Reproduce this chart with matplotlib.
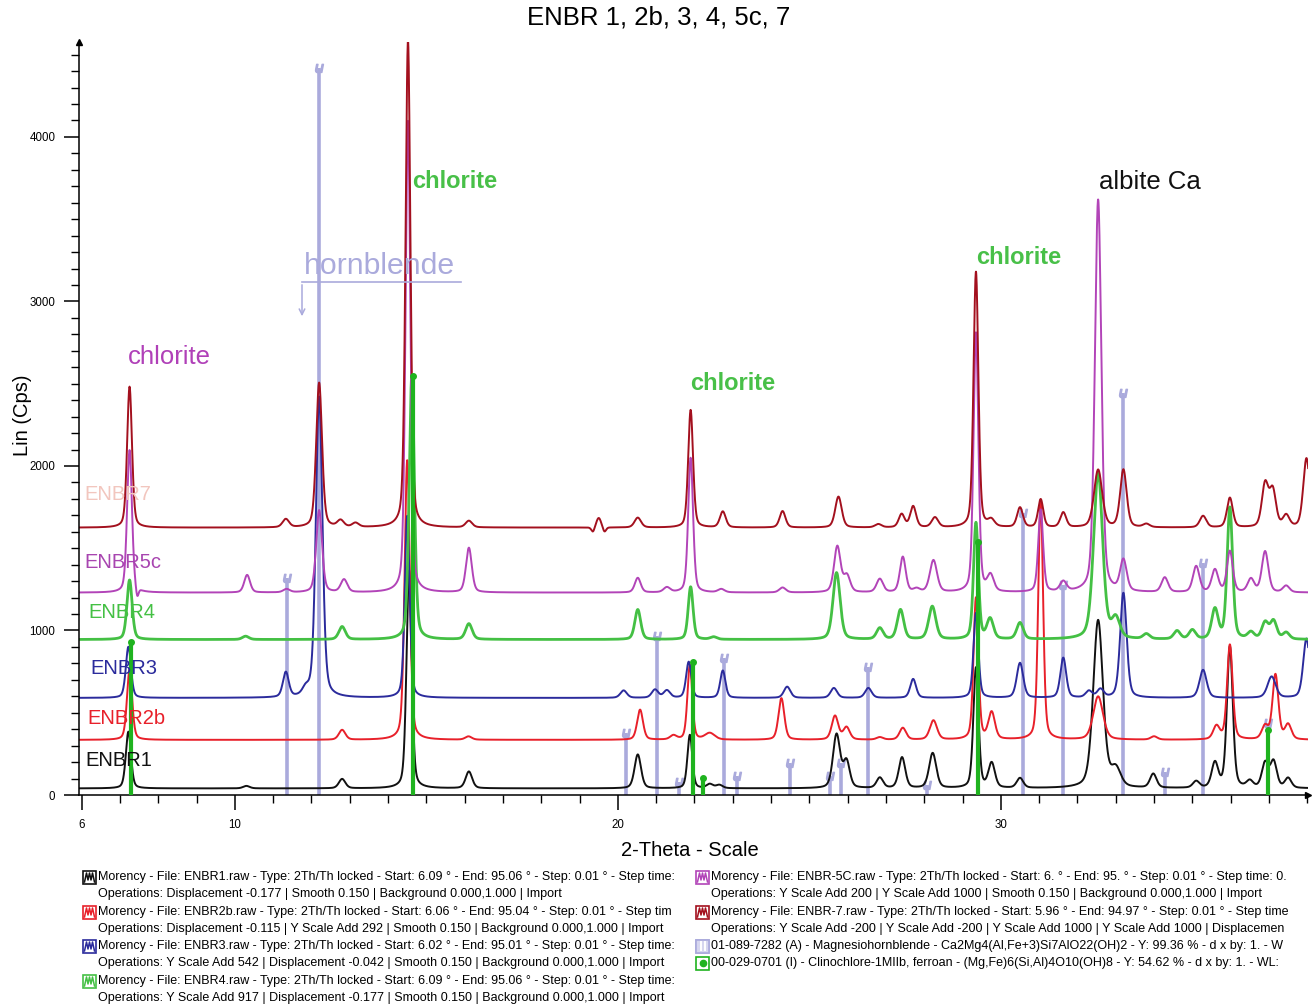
import numpy as np
import matplotlib.pyplot as plt
from matplotlib.patches import Rectangle
from matplotlib.lines import Line2D
from matplotlib.ticker import MultipleLocator, FixedLocator

plt.rcParams['font.family'] = ['Liberation Sans', 'DejaVu Sans']

# --- data (2-theta in deg, counts above background) ---
sample_names = ['ENBR1', 'ENBR2b', 'ENBR3', 'ENBR4', 'ENBR5c', 'ENBR7']
backgrounds = [40, 335, 590, 945, 1230, 1625]

# (position, height, fwhm)
peaks_enbr1 = [
    (7.22, 345, 0.16), (10.3, 15, 0.2), (12.8, 57, 0.2), (14.55, 1325, 0.16),
    (16.11, 102, 0.2), (20.52, 206, 0.2), (21.88, 325, 0.15), (22.4, 25, 0.2),
    (22.65, 20, 0.2), (25.71, 325, 0.22), (25.97, 160, 0.2), (26.84, 63, 0.2),
    (27.42, 187, 0.2), (28.22, 213, 0.22), (29.35, 732, 0.16), (29.76, 150, 0.2),
    (30.5, 60, 0.2), (32.54, 1020, 0.3), (33.0, 110, 0.3), (33.98, 85, 0.2),
    (35.1, 40, 0.2), (35.59, 150, 0.2), (35.98, 860, 0.18), (36.5, 40, 0.2),
    (36.9, 150, 0.2), (37.12, 160, 0.2), (37.5, 60, 0.2),
]
peaks_enbr2b = [
    (7.25, 425, 0.16), (12.8, 60, 0.2), (14.5, 1700, 0.16), (16.1, 20, 0.2),
    (20.58, 183, 0.18), (21.45, 25, 0.2), (21.88, 455, 0.15), (22.4, 40, 0.3),
    (24.27, 253, 0.18), (25.67, 145, 0.2), (25.97, 75, 0.2), (26.84, 15, 0.2),
    (27.44, 72, 0.2), (28.24, 117, 0.22), (29.35, 862, 0.15), (29.76, 163, 0.2),
    (31.04, 1458, 0.15), (32.54, 263, 0.3), (34.0, 20, 0.2), (35.63, 80, 0.2),
    (35.98, 577, 0.17), (36.9, 80, 0.2), (37.17, 394, 0.18), (37.5, 90, 0.2),
]
peaks_enbr3 = [
    (7.22, 311, 0.16), (11.33, 151, 0.18), (11.85, 40, 0.2), (12.2, 1830, 0.2),
    (14.5, 1106, 0.15), (20.15, 45, 0.2), (20.97, 50, 0.2), (21.28, 45, 0.2),
    (21.85, 219, 0.16), (22.74, 166, 0.16), (24.42, 68, 0.2), (25.64, 60, 0.2),
    (26.54, 60, 0.2), (27.71, 115, 0.18), (29.35, 516, 0.15), (30.5, 212, 0.2),
    (31.63, 243, 0.18), (32.3, 40, 0.2), (32.6, 50, 0.2), (33.2, 638, 0.2),
    (35.28, 170, 0.22), (37.07, 129, 0.25), (37.98, 360, 0.2),
]
peaks_enbr4 = [
    (7.25, 362, 0.16), (10.28, 20, 0.2), (12.8, 78, 0.2), (14.62, 1602, 0.16),
    (16.11, 95, 0.2), (20.52, 182, 0.18), (21.9, 320, 0.15), (22.5, 15, 0.2),
    (25.71, 406, 0.22), (26.84, 68, 0.2), (27.38, 180, 0.2), (28.21, 200, 0.22),
    (29.35, 708, 0.15), (29.72, 122, 0.2), (30.5, 100, 0.2), (32.54, 1012, 0.28),
    (33.0, 120, 0.25), (33.8, 30, 0.2), (34.6, 50, 0.2), (35.0, 55, 0.2),
    (35.59, 180, 0.2), (35.98, 800, 0.17), (36.53, 40, 0.2), (36.9, 100, 0.2),
    (37.12, 110, 0.2), (37.45, 40, 0.2),
]
peaks_enbr5c = [
    (7.25, 867, 0.15), (7.45, -60, 0.08), (10.32, 107, 0.18), (11.35, 20, 0.2),
    (12.2, 500, 0.18), (12.85, 77, 0.2), (14.52, 2867, 0.15), (16.11, 271, 0.18),
    (20.52, 89, 0.18), (21.28, 30, 0.2), (21.9, 819, 0.15), (22.7, 20, 0.2),
    (24.3, 30, 0.2), (25.73, 279, 0.2), (25.98, 100, 0.2), (26.84, 81, 0.2),
    (27.44, 215, 0.18), (27.8, 20, 0.2), (28.24, 194, 0.22), (29.35, 1578, 0.15),
    (29.73, 97, 0.2), (31.04, 500, 0.15), (31.63, 60, 0.2), (32.54, 2387, 0.2),
    (33.2, 188, 0.2), (34.28, 89, 0.2), (35.1, 158, 0.2), (35.59, 136, 0.2),
    (35.98, 249, 0.18), (36.53, 80, 0.2), (36.9, 249, 0.2), (37.45, 40, 0.2),
]
peaks_enbr7 = [
    (7.25, 857, 0.15), (11.33, 50, 0.2), (12.2, 880, 0.18), (12.76, 40, 0.2),
    (13.15, 25, 0.2), (14.52, 2960, 0.15), (16.11, 40, 0.2), (19.35, -30, 0.1),
    (19.5, 60, 0.15), (19.65, -30, 0.1), (20.52, 60, 0.2), (21.9, 715, 0.15),
    (22.74, 97, 0.18), (24.3, 100, 0.18), (25.76, 188, 0.2), (26.8, 20, 0.2),
    (27.41, 80, 0.18), (27.71, 128, 0.18), (28.28, 60, 0.2), (29.35, 1554, 0.15),
    (29.75, 40, 0.2), (30.5, 120, 0.18), (31.04, 170, 0.16), (31.63, 90, 0.18),
    (32.54, 350, 0.25), (33.2, 350, 0.2), (33.8, 20, 0.2), (35.28, 70, 0.2),
    (35.98, 180, 0.18), (36.9, 260, 0.2), (37.1, 220, 0.2), (37.45, 70, 0.2),
    (37.98, 420, 0.2),
]
sample_peaks = [peaks_enbr1, peaks_enbr2b, peaks_enbr3, peaks_enbr4,
                peaks_enbr5c, peaks_enbr7]

# reference patterns (stick positions / heights in Cps)
hbl_pos = [11.35, 12.2, 20.2, 21.01, 21.6, 22.78, 23.1, 24.49, 25.55, 25.83,
           26.54, 28.08, 30.58, 31.61, 33.2, 34.28, 35.28, 36.98]
hbl_int = [1319, 4420, 377, 968, 81, 833, 115, 194, 115, 194,
           780, 60, 1714, 1277, 2444, 142, 1410, 437]
chl_pos = [7.3, 14.65, 21.97, 22.23, 29.41, 36.98]
chl_int = [930, 2547, 809, 103, 1540, 395]

legend_left = [
    ("Morency - File: ENBR1.raw - Type: 2Th/Th locked - Start: 6.09 \u00b0 - End: 95.06 \u00b0 - Step: 0.01 \u00b0 - Step time:",
     "Operations: Displacement -0.177 | Smooth 0.150 | Background 0.000,1.000 | Import"),
    ("Morency - File: ENBR2b.raw - Type: 2Th/Th locked - Start: 6.06 \u00b0 - End: 95.04 \u00b0 - Step: 0.01 \u00b0 - Step tim",
     "Operations: Displacement -0.115 | Y Scale Add 292 | Smooth 0.150 | Background 0.000,1.000 | Import"),
    ("Morency - File: ENBR3.raw - Type: 2Th/Th locked - Start: 6.02 \u00b0 - End: 95.01 \u00b0 - Step: 0.01 \u00b0 - Step time:",
     "Operations: Y Scale Add 542 | Displacement -0.042 | Smooth 0.150 | Background 0.000,1.000 | Import"),
    ("Morency - File: ENBR4.raw - Type: 2Th/Th locked - Start: 6.09 \u00b0 - End: 95.06 \u00b0 - Step: 0.01 \u00b0 - Step time:",
     "Operations: Y Scale Add 917 | Displacement -0.177 | Smooth 0.150 | Background 0.000,1.000 | Import"),
]
legend_right = [
    ("Morency - File: ENBR-5C.raw - Type: 2Th/Th locked - Start: 6. \u00b0 - End: 95. \u00b0 - Step: 0.01 \u00b0 - Step time: 0.",
     "Operations: Y Scale Add 200 | Y Scale Add 1000 | Smooth 0.150 | Background 0.000,1.000 | Import"),
    ("Morency - File: ENBR-7.raw - Type: 2Th/Th locked - Start: 5.96 \u00b0 - End: 94.97 \u00b0 - Step: 0.01 \u00b0 - Step time",
     "Operations: Y Scale Add -200 | Y Scale Add -200 | Y Scale Add 1000 | Y Scale Add 1000 | Displacemen"),
    ("01-089-7282 (A) - Magnesiohornblende - Ca2Mg4(Al,Fe+3)Si7AlO22(OH)2 - Y: 99.36 % - d x by: 1. - W", None),
    ("00-029-0701 (I) - Clinochlore-1MIIb, ferroan - (Mg,Fe)6(Si,Al)4O10(OH)8 - Y: 54.62 % - d x by: 1. - WL:", None),
]

colors = ['#111111', '#e8202a', '#2b2b9c', '#44c044', '#b244b8', '#a3101e']
label_colors = ['#111111', '#e8202a', '#2b2b9c', '#44c044', '#a845b0', '#f2c6be']
lavender = '#aaaadc'
chl_green = '#1fb31f'

W, H = 1314, 1006


def fx(px):
    return px / W


def fy(py):
    return 1 - py / H


two_theta = np.arange(5.93, 38.03, 0.005)


def pattern(base, peaks):
    y = np.full_like(two_theta, float(base))
    for pos, h, fw in peaks:
        d = (two_theta - pos) / fw
        y += h * (0.65 * np.exp(-4 * np.log(2) * d ** 2) + 0.35 / (1 + 4 * d ** 2))
    return y


fig = plt.figure(figsize=(W / 100, H / 100), dpi=100)
ax = fig.add_axes([fx(79), fy(795), fx(1308) - fx(79), fy(42) - fy(795)])

# reference sticks
ax.vlines(hbl_pos, 0, hbl_int, color=lavender, lw=2.6, zorder=1)
ax.plot(hbl_pos, hbl_int, ls='none', marker='$u$', ms=6, color=lavender, zorder=1)

for i, name in enumerate(sample_names):
    y = pattern(backgrounds[i], sample_peaks[i])
    lw = 2.0 if name == 'ENBR4' else 1.4
    ax.plot(two_theta, y, color=colors[i], lw=lw, zorder=2 + i * 0.1)

ax.vlines(chl_pos, 0, chl_int, color=chl_green, lw=3, zorder=3)
ax.plot(chl_pos, chl_int, ls='none', marker='o', ms=4, color=chl_green, zorder=3)

ax.set_xlim(5.93, 38.02)
ax.set_ylim(0, 4577)
for s in ['top', 'right']:
    ax.spines[s].set_visible(False)
ax.spines['left'].set_linewidth(1.1)
ax.spines['bottom'].set_linewidth(1.1)
ax.plot(1, 0, '>k', ms=5, transform=ax.transAxes, clip_on=False)
ax.plot(0, 1, '^k', ms=5, transform=ax.transAxes, clip_on=False)

ax.xaxis.set_major_locator(FixedLocator([6, 10, 20, 30]))
ax.xaxis.set_minor_locator(MultipleLocator(1))
ax.yaxis.set_major_locator(MultipleLocator(1000))
ax.yaxis.set_minor_locator(MultipleLocator(100))
ax.tick_params(axis='both', which='major', length=11, width=1.1, labelsize=8.3, pad=6)
ax.tick_params(axis='both', which='minor', length=6, width=1.0)
ax.set_facecolor('none')

# sample labels
label_px = [(85, 760), (87, 718), (90, 668), (88, 613), (84, 562), (84, 495)]
for (px, py), name, c in zip(label_px, sample_names, label_colors):
    fig.text(fx(px), fy(py), name, color=c, fontsize=14.5, va='center', ha='left', zorder=0)

# phase annotations
fig.text(fx(128), fy(357), 'chlorite', color='#b040b8', fontsize=18.5, va='center')
fig.text(fx(412), fy(182), 'chlorite', color='#48c048', fontsize=17, fontweight='bold', va='center')
fig.text(fx(690), fy(384), 'chlorite', color='#48c048', fontsize=17, fontweight='bold', va='center')
fig.text(fx(976), fy(258), 'chlorite', color='#48c048', fontsize=17, fontweight='bold', va='center')
fig.text(fx(1099), fy(182), 'albite Ca', color='#111111', fontsize=18.5, va='center')
fig.text(fx(304), fy(266), 'hornblende', color=lavender, fontsize=21.8, va='center')
fig.add_artist(Line2D([fx(302), fx(461)], [fy(282), fy(282)], color=lavender, lw=1.2))
ax.annotate('', xy=(fx(302), fy(319)), xytext=(fx(302), fy(282)),
            xycoords='figure fraction', textcoords='figure fraction',
            arrowprops=dict(arrowstyle='->', color=lavender, lw=1.1))

fig.text(fx(659), fy(18), 'ENBR 1, 2b, 3, 4, 5c, 7', fontsize=18.5, ha='center', va='center')
fig.text(fx(690), fy(851), '2-Theta - Scale', fontsize=14.5, ha='center', va='center')
fig.text(fx(22), fy(415), 'Lin (Cps)', fontsize=14.5, ha='center', va='center', rotation=90)


# legend
def icon(px, py, color, kind='scan'):
    s = 13
    fig.add_artist(Rectangle((fx(px), fy(py + s / 2)), s / W, s / H, facecolor='white',
                             edgecolor=color, lw=1.2, transform=fig.transFigure))
    if kind == 'scan':
        xs = np.array([1.5, 3.5, 5, 6.5, 8, 9.5, 11.5]) + px
        ys = np.array([5, -4, 3, -4, 3, -4, 5]) + py
        fig.add_artist(Line2D(fx(xs), fy(ys), color=color, lw=1.1))
    elif kind == 'bars':
        fig.add_artist(Rectangle((fx(px), fy(py + s / 2)), s / W, s / H, facecolor='#d6d6ef',
                                 edgecolor=color, lw=1.2, transform=fig.transFigure))
        for dx in (4.5, 8.5):
            fig.add_artist(Line2D([fx(px + dx)] * 2, [fy(py - 4), fy(py + 4)], color='white', lw=1.4))
    else:
        fig.add_artist(Line2D([fx(px + s / 2)], [fy(py)], marker='o', ms=4.5, color=color))


legend_size = 9.0
left_rows = [877, 912, 946, 981]
for (l1, l2), row, c in zip(legend_left, left_rows, colors[:4]):
    icon(83, row, c)
    fig.text(fx(98), fy(row), l1, fontsize=legend_size, va='center')
    fig.text(fx(98), fy(row + 17), l2, fontsize=legend_size, va='center')

right_rows = [877, 912, 946, 963]
right_kinds = ['scan', 'scan', 'bars', 'dot']
right_colors = [colors[4], colors[5], lavender, chl_green]
for (l1, l2), row, c, k in zip(legend_right, right_rows, right_colors, right_kinds):
    icon(696, row, c, k)
    fig.text(fx(711), fy(row), l1, fontsize=legend_size, va='center')
    if l2:
        fig.text(fx(711), fy(row + 17), l2, fontsize=legend_size, va='center')

fig.savefig('out.png', dpi=100)
